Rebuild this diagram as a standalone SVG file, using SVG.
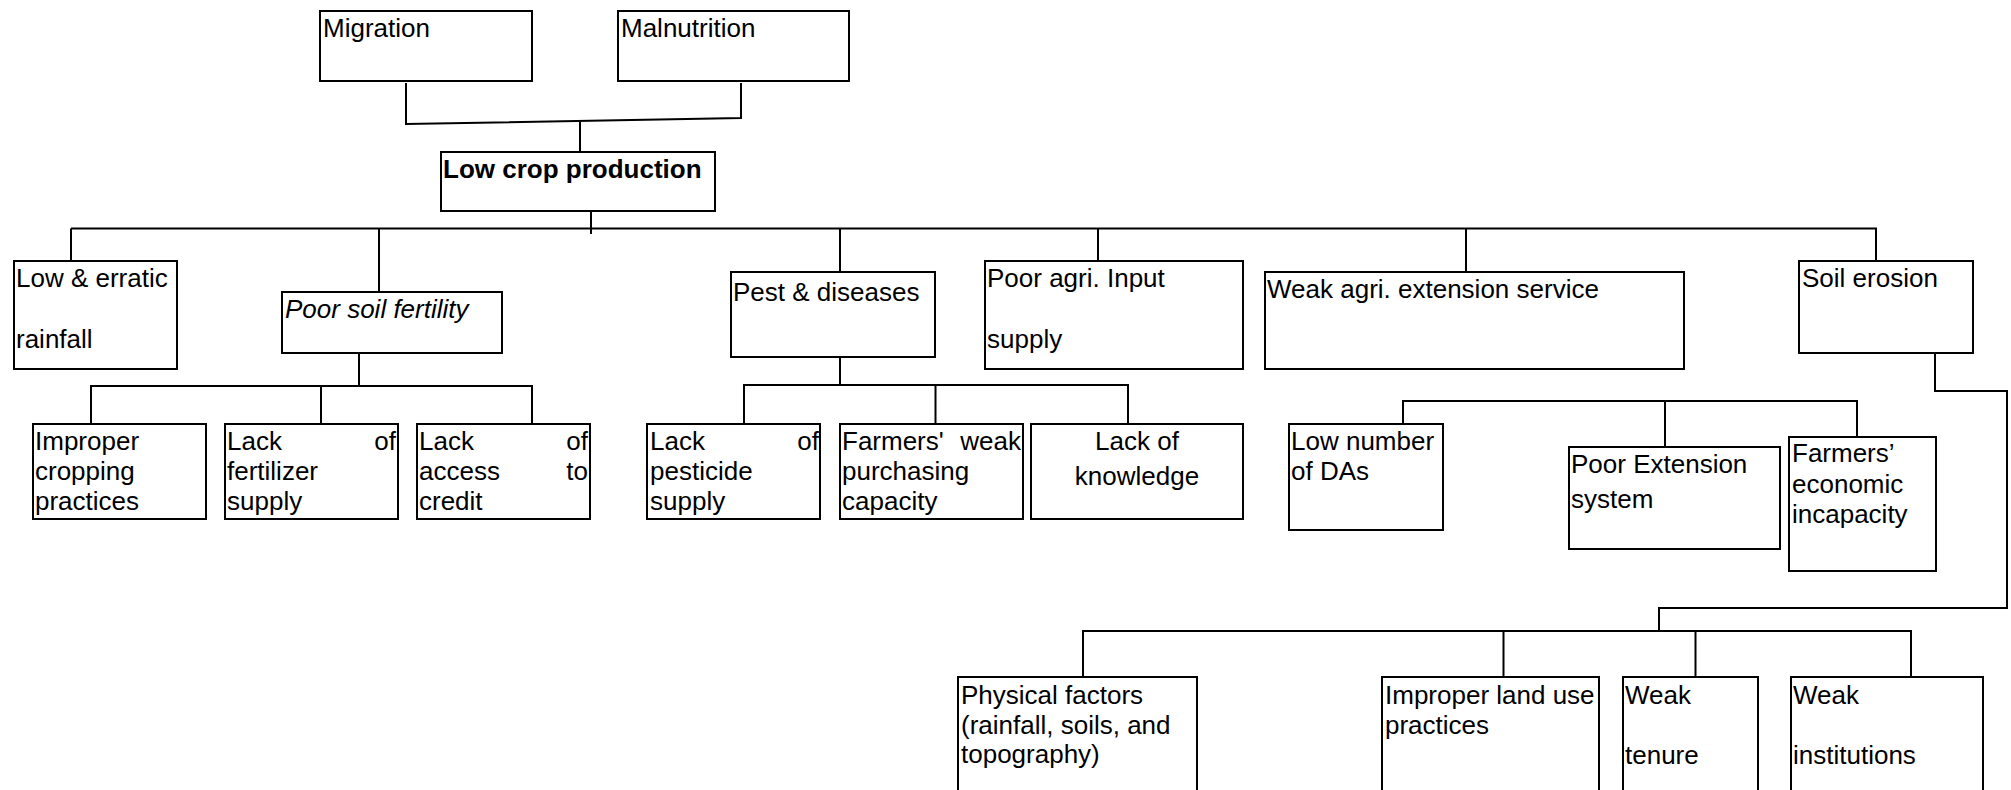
<svg xmlns="http://www.w3.org/2000/svg" width="2011" height="790" viewBox="0 0 2011 790">
  <style>
    .box { fill: #ffffff; stroke: #000000; stroke-width: 2; }
    .wire { fill: none; stroke: #000000; stroke-width: 2; }
    text { font-family: "Liberation Sans", Arial, sans-serif; font-size: 26px; fill: #000000; }
    .bold { font-weight: bold; }
    .ital { font-style: italic; }
    .end { text-anchor: end; }
    .mid { text-anchor: middle; }
  </style>
  <rect width="2011" height="790" fill="#ffffff"/>

  <!-- connectors -->
  <g id="connectors">
    <!-- effects joined to the core problem -->
    <path class="wire" d="M406,83 V124 L741,118 V83"/>
    <path class="wire" d="M580,122 V152"/>
    <!-- core problem down to the cause bus -->
    <path class="wire" d="M591,211 V234"/>
    <path class="wire" d="M71,228.5 H1876 V261"/>
    <path class="wire" d="M71,228.5 V261"/>
    <path class="wire" d="M379,228.5 V292"/>
    <path class="wire" d="M840,228.5 V272"/>
    <path class="wire" d="M1098,228.5 V261"/>
    <path class="wire" d="M1466,228.5 V272"/>
    <!-- poor soil fertility sub-causes -->
    <path class="wire" d="M359,353 V386"/>
    <path class="wire" d="M91,424 V386 H532 V424"/>
    <path class="wire" d="M321,386 V424"/>
    <!-- pest & diseases sub-causes -->
    <path class="wire" d="M840,357 V385"/>
    <path class="wire" d="M744,424 V385 H1128 V424"/>
    <path class="wire" d="M935.5,385 V424"/>
    <!-- extension service sub-causes -->
    <path class="wire" d="M1403,424 V401 H1857 V437"/>
    <path class="wire" d="M1665,401 V447"/>
    <!-- soil erosion sub-causes -->
    <path class="wire" d="M1935,353 V391 H2007 V608 H1659 V631"/>
    <path class="wire" d="M1083,677 V631 H1911 V677"/>
    <path class="wire" d="M1503.5,631 V677"/>
    <path class="wire" d="M1695.5,631 V677"/>
  </g>

  <!-- effects -->
  <g id="migration">
    <rect class="box" x="320" y="11" width="212" height="70"/>
    <text x="323" y="37">Migration</text>
  </g>
  <g id="malnutrition">
    <rect class="box" x="618" y="11" width="231" height="70"/>
    <text x="621" y="37">Malnutrition</text>
  </g>

  <!-- core problem -->
  <g id="low-crop-production">
    <rect class="box" x="441" y="152" width="274" height="59"/>
    <text class="bold" x="443" y="178">Low crop production</text>
  </g>

  <!-- direct causes -->
  <g id="low-erratic-rainfall">
    <rect class="box" x="14" y="261" width="163" height="108"/>
    <text x="16" y="287">Low &amp; erratic</text>
    <text x="16" y="348">rainfall</text>
  </g>
  <g id="poor-soil-fertility">
    <rect class="box" x="282" y="292" width="220" height="61"/>
    <text class="ital" x="285" y="318">Poor soil fertility</text>
  </g>
  <g id="pest-diseases">
    <rect class="box" x="731" y="272" width="204" height="85"/>
    <text x="733" y="301">Pest &amp; diseases</text>
  </g>
  <g id="poor-input-supply">
    <rect class="box" x="985" y="261" width="258" height="108"/>
    <text x="987" y="287">Poor agri. Input</text>
    <text x="987" y="348">supply</text>
  </g>
  <g id="weak-extension">
    <rect class="box" x="1265" y="272" width="419" height="97"/>
    <text x="1267" y="298">Weak agri. extension service</text>
  </g>
  <g id="soil-erosion">
    <rect class="box" x="1799" y="261" width="174" height="92"/>
    <text x="1802" y="287">Soil erosion</text>
  </g>

  <!-- soil fertility sub-causes -->
  <g id="improper-cropping">
    <rect class="box" x="33" y="424" width="173" height="95"/>
    <text x="35" y="450">Improper</text>
    <text x="35" y="480">cropping</text>
    <text x="35" y="510">practices</text>
  </g>
  <g id="lack-fertilizer">
    <rect class="box" x="225" y="424" width="173" height="95"/>
    <text x="227" y="450">Lack</text>
    <text class="end" x="396" y="450">of</text>
    <text x="227" y="480">fertilizer</text>
    <text x="227" y="510">supply</text>
  </g>
  <g id="lack-credit">
    <rect class="box" x="417" y="424" width="173" height="95"/>
    <text x="419" y="450">Lack</text>
    <text class="end" x="588" y="450">of</text>
    <text x="419" y="480">access</text>
    <text class="end" x="588" y="480">to</text>
    <text x="419" y="510">credit</text>
  </g>

  <!-- pest sub-causes -->
  <g id="lack-pesticide">
    <rect class="box" x="647" y="424" width="173" height="95"/>
    <text x="650" y="450">Lack</text>
    <text class="end" x="819" y="450">of</text>
    <text x="650" y="480">pesticide</text>
    <text x="650" y="510">supply</text>
  </g>
  <g id="weak-purchasing">
    <rect class="box" x="840" y="424" width="183" height="95"/>
    <text x="842" y="450">Farmers'</text>
    <text class="end" x="1021" y="450">weak</text>
    <text x="842" y="480">purchasing</text>
    <text x="842" y="510">capacity</text>
  </g>
  <g id="lack-knowledge">
    <rect class="box" x="1031" y="424" width="212" height="95"/>
    <text class="mid" x="1137" y="450">Lack of</text>
    <text class="mid" x="1137" y="485">knowledge</text>
  </g>

  <!-- extension sub-causes -->
  <g id="low-number-das">
    <rect class="box" x="1289" y="424" width="154" height="106"/>
    <text x="1291" y="450">Low number</text>
    <text x="1291" y="480">of DAs</text>
  </g>
  <g id="poor-extension-system">
    <rect class="box" x="1569" y="447" width="211" height="102"/>
    <text x="1571" y="473">Poor Extension</text>
    <text x="1571" y="508">system</text>
  </g>
  <g id="economic-incapacity">
    <rect class="box" x="1789" y="437" width="147" height="134"/>
    <text x="1792" y="462">Farmers’</text>
    <text x="1792" y="493">economic</text>
    <text x="1792" y="523">incapacity</text>
  </g>

  <!-- soil erosion sub-causes -->
  <g id="physical-factors">
    <rect class="box" x="958" y="677" width="239" height="130"/>
    <text x="961" y="704">Physical factors</text>
    <text x="961" y="734">(rainfall, soils, and</text>
    <text x="961" y="763">topography)</text>
  </g>
  <g id="improper-land-use">
    <rect class="box" x="1382" y="677" width="217" height="130"/>
    <text x="1385" y="704">Improper land use</text>
    <text x="1385" y="734">practices</text>
  </g>
  <g id="weak-tenure">
    <rect class="box" x="1623" y="677" width="135" height="130"/>
    <text x="1625" y="704">Weak</text>
    <text x="1625" y="764">tenure</text>
  </g>
  <g id="weak-institutions">
    <rect class="box" x="1791" y="677" width="192" height="130"/>
    <text x="1793" y="704">Weak</text>
    <text x="1793" y="764">institutions</text>
  </g>
</svg>
